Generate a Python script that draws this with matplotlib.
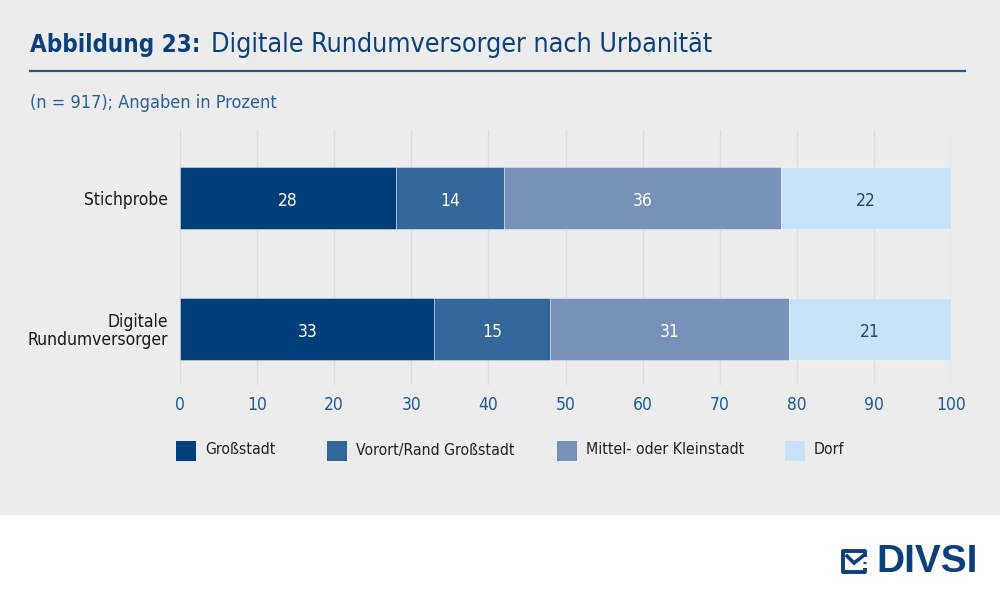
import matplotlib
matplotlib.use("Agg")
import matplotlib.pyplot as plt
from matplotlib.patches import Rectangle, Circle
from matplotlib.lines import Line2D

plt.rcParams['font.family'] = ['DejaVu Sans']
plt.rcParams['font.stretch'] = 'condensed'

groups = ["Stichprobe", "Digitale\nRundumversorger"]
series = ["Großstadt", "Vorort/Rand Großstadt", "Mittel- oder Kleinstadt", "Dorf"]
values = {
    "Großstadt": [28, 33],
    "Vorort/Rand Großstadt": [14, 15],
    "Mittel- oder Kleinstadt": [36, 31],
    "Dorf": [22, 21],
}
colors = ["#003f7a", "#336699", "#7891b9", "#c8e3f7"]
label_colors = ["white", "white", "white", "#1b4a82"]
ticks = [0, 10, 20, 30, 40, 50, 60, 70, 80, 90, 100]

W, H = 1000, 597
fig = plt.figure(figsize=(W / 100, H / 100), dpi=100)
fig.patch.set_facecolor("white")
fig.patches.append(Rectangle((0, 1 - 515 / H), 1, 515 / H, transform=fig.transFigure,
                             facecolor="#ececec", edgecolor="none", zorder=-10))

ax = fig.add_axes([180 / W, 1 - 385 / H, 771 / W, 255 / H])
ax.set_facecolor("none")
ypos = list(range(len(groups)))
left = [0] * len(groups)
text_dy = 0.025
for s, c, lc in zip(series, colors, label_colors):
    v = values[s]
    bars = ax.barh(ypos, v, left=left, height=0.473, color=c,
                   edgecolor=(1, 1, 1, 0.45), linewidth=0.6, zorder=3)
    for b, val in zip(bars, v):
        ax.text(b.get_x() + b.get_width() / 2, b.get_y() + b.get_height() / 2 + text_dy, f"{val}",
                ha="center", va="center", color=lc, fontsize=12.5, zorder=4)
    left = [l + x for l, x in zip(left, v)]

ax.set_xlim(0, 100)
ax.set_ylim(1.427, -0.519)
ax.set_xticks(ticks)
ax.set_xticklabels([str(t) for t in ticks], color="#1f5a96", fontsize=12.5)
ax.set_yticks(ypos)
ax.set_yticklabels(groups, color="#1a1a1a", fontsize=12.5, linespacing=1.0)
ax.tick_params(axis="y", length=0, pad=8.5)
ax.tick_params(axis="x", length=0, pad=8)
ax.grid(axis="x", color="#dddddd", linewidth=1, zorder=0)
for sp in ax.spines.values():
    sp.set_visible(False)

# Title
t1 = fig.text(30 / W, 1 - 45 / H, "Abbildung 23:", fontsize=17.3, fontweight="bold",
              color="#0b4079", va="center", ha="left")
fig.canvas.draw()
bb = t1.get_window_extent()
fig.text((bb.x1 + 11) / W, 1 - 45 / H, "Digitale Rundumversorger nach Urbanität", fontsize=19.3,
         color="#0b4079", va="center", ha="left")
fig.add_artist(Line2D([30 / W, 965 / W], [1 - 71 / H, 1 - 71 / H], transform=fig.transFigure,
                      color="#2b5685", linewidth=1.6))
fig.text(30 / W, 1 - 103 / H, "(n = 917); Angaben in Prozent", fontsize=13,
         color="#2b5f95", va="center", ha="left")

# Legend
leg_x = [176, 327, 557, 785]
for lx, s, c in zip(leg_x, series, colors):
    fig.patches.append(Rectangle((lx / W, 1 - 461 / H), 20 / W, 20 / H, transform=fig.transFigure,
                                 facecolor=c, edgecolor="none"))
    fig.text((lx + 29) / W, 1 - 450 / H, s, fontsize=11.3, color="#222222", va="center", ha="left")

# Logo
logo_c = "#0d3f7a"
def fx(px):
    return px / W
def fy(py):
    return 1 - py / H
fig.add_artist(Line2D([fx(865), fx(865), fx(843), fx(843), fx(865), fx(865)],
                      [fy(557), fy(551), fy(551), fy(572), fy(572), fy(568)],
                      transform=fig.transFigure, color=logo_c, linewidth=2.8,
                      solid_joinstyle="round", solid_capstyle="butt"))
fig.add_artist(Line2D([fx(847), fx(854), fx(863)], [fy(556), fy(563), fy(556)],
                      transform=fig.transFigure, color=logo_c, linewidth=2.6,
                      solid_joinstyle="miter"))
fig.patches.append(Circle((fx(865), fy(563)), 1.8 / W, transform=fig.transFigure,
                          facecolor=logo_c, edgecolor="none"))
fig.text(876 / W, 1 - 562 / H, "DIVSI", fontsize=28, fontweight="bold", color=logo_c,
         va="center", ha="left", family=["Liberation Sans", "DejaVu Sans"], fontstretch="normal")

fig.savefig("out.png", dpi=100, facecolor=fig.get_facecolor())
